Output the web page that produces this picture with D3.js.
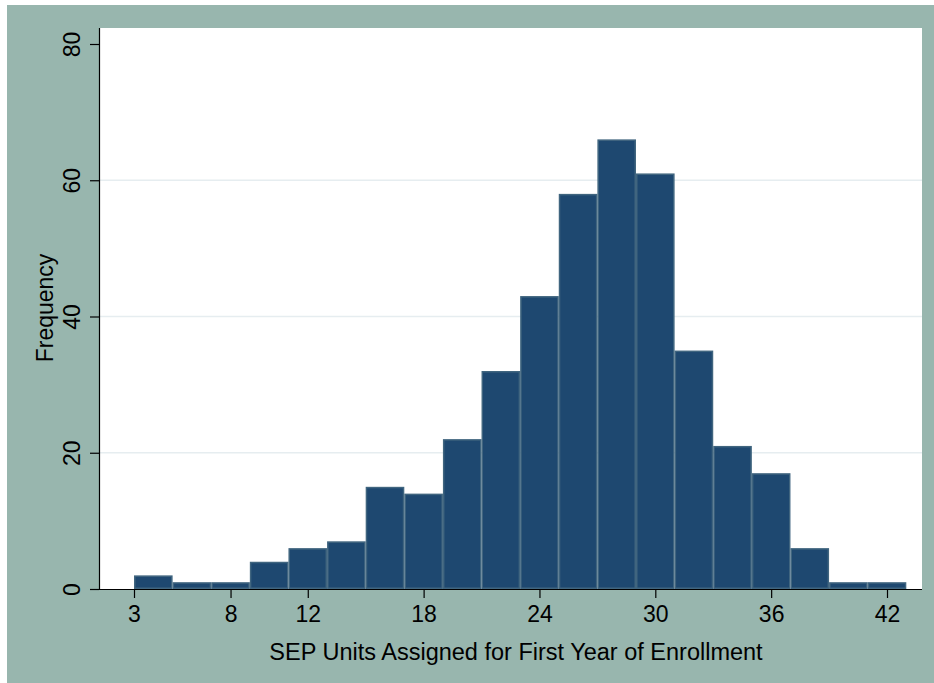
<!DOCTYPE html>
<html>
<head>
<meta charset="utf-8">
<script src="https://cdn.jsdelivr.net/npm/d3@7"></script>
<style>
  body { margin: 0; background: #fff; }
  text { font-family: "Liberation Sans", Arial, sans-serif; fill: #000; }
</style>
</head>
<body>
<div id="wrapper"></div>
<script>
// histogram bins: start at 3, width 2
const binStart = 3;
const binWidth = 2;
const counts = [2, 1, 1, 4, 6, 7, 15, 14, 22, 32, 43, 58, 66, 61, 35, 21, 17, 6, 1, 1];
const xTicks = [3, 8, 12, 18, 24, 30, 36, 42];
const yTicks = [0, 20, 40, 60, 80];

const bins = counts.map((c, i) => ({x0: binStart + i * binWidth, x1: binStart + (i + 1) * binWidth, n: c}));

const width = 934, height = 683;
const plot = {left: 99, right: 922, top: 28, bottom: 589};

const svg = d3.select("#wrapper").append("svg")
  .attr("width", width)
  .attr("height", height);

// outer teal frame
svg.append("rect").attr("x", 7).attr("y", 5).attr("width", width - 7).attr("height", height - 5).attr("fill", "#98b6ae");
// plot region
svg.append("rect").attr("x", plot.left).attr("y", plot.top)
  .attr("width", plot.right - plot.left).attr("height", plot.bottom - plot.top).attr("fill", "#fff");

const xScale = d3.scaleLinear().domain([3, 42]).range([134, 887]);
const yScale = d3.scaleLinear().domain([0, 80]).range([plot.bottom, 44]);

// gridlines
svg.append("g").selectAll("line")
  .data(yTicks.filter(d => d > 0 && d < 80))
  .enter().append("line")
  .attr("x1", plot.left).attr("x2", plot.right)
  .attr("y1", d => yScale(d)).attr("y2", d => yScale(d))
  .attr("stroke", "#e6edf0").attr("stroke-width", 1.5);

// bars
svg.append("g").selectAll("rect")
  .data(bins)
  .enter().append("rect")
  .attr("x", d => xScale(d.x0) + 0.75)
  .attr("y", d => yScale(d.n) + 0.75)
  .attr("width", d => xScale(d.x1) - xScale(d.x0) - 1.5)
  .attr("height", d => yScale(0) - yScale(d.n) - 1.5)
  .attr("fill", "#1e4870")
  .attr("stroke", "#40657f")
  .attr("stroke-width", 1.5);

// x axis
const xAxis = d3.axisBottom(xScale).tickValues(xTicks).tickSize(9).tickSizeOuter(0);
const gx = svg.append("g").attr("transform", `translate(0,${plot.bottom})`).call(xAxis);
gx.select(".domain").attr("d", `M${plot.left},0.5H${plot.right}`).attr("stroke", "#000").attr("stroke-width", 1.2);
gx.selectAll(".tick line").attr("stroke", "#000").attr("stroke-width", 1.2);
gx.selectAll("text").style("font-size", "23px").attr("font-family", null)
  .attr("y", 33).attr("dy", null);

// y axis
const yAxis = d3.axisLeft(yScale).tickValues(yTicks).tickSize(9).tickSizeOuter(0);
const gy = svg.append("g").attr("transform", `translate(${plot.left},0)`).call(yAxis);
gy.select(".domain").attr("d", `M0.5,${plot.bottom}V${plot.top}`).attr("stroke", "#000").attr("stroke-width", 1.2);
gy.selectAll(".tick line").attr("stroke", "#000").attr("stroke-width", 1.2);
gy.selectAll("text")
  .attr("font-family", null)
  .style("font-size", "23px")
  .attr("x", null).attr("dy", null)
  .attr("text-anchor", "middle")
  .attr("transform", "translate(-19,0) rotate(-90)");

// axis titles
svg.append("text")
  .attr("x", 516)
  .attr("y", 660)
  .attr("text-anchor", "middle")
  .style("font-size", "23.5px")
  .text("SEP Units Assigned for First Year of Enrollment");

svg.append("text")
  .attr("transform", "translate(53,308) rotate(-90)")
  .attr("text-anchor", "middle")
  .style("font-size", "23px")
  .text("Frequency");
</script>
</body>
</html>
